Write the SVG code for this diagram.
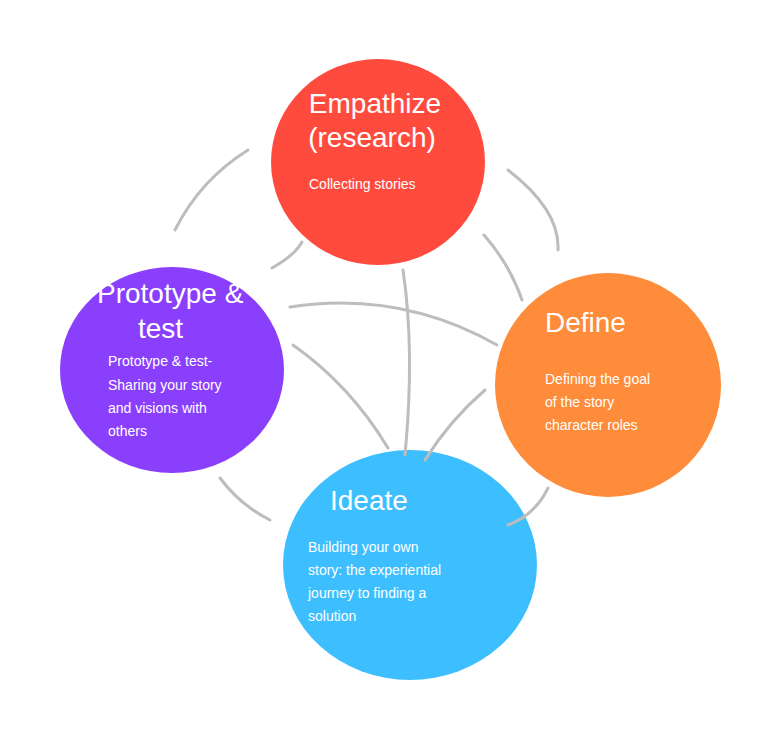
<svg xmlns="http://www.w3.org/2000/svg" width="768" height="734" viewBox="0 0 768 734">
<style>
.c{fill:none;stroke:#BDBDBD;stroke-width:3;stroke-linecap:round}
.t{fill:#fff;font-family:"Liberation Sans Narrow","Liberation Sans",sans-serif}
.h{font-size:28px}
.b{font-size:14px}
</style>
<rect width="768" height="734" fill="#fff"/>
<g id="empathize">
<ellipse cx="378" cy="162" rx="107" ry="103" fill="#FF4B3E"/>
<text class="t h" x="375" y="113" text-anchor="middle">Empathize</text>
<text class="t h" x="372" y="147" text-anchor="middle">(research)</text>
<text class="t b" x="309" y="189">Collecting stories</text>
</g>
<g id="define">
<ellipse cx="608" cy="385" rx="113" ry="112" fill="#FF8C3A"/>
<text class="t h" x="545" y="332">Define</text>
<text class="t b" x="545" y="384">Defining the goal</text>
<text class="t b" x="545" y="407">of the story</text>
<text class="t b" x="545" y="430">character roles</text>
</g>
<g id="prototype">
<ellipse cx="172" cy="370" rx="112" ry="103" fill="#8A3FFC"/>
<text class="t h" x="97" y="303">Prototype &amp;</text>
<text class="t h" x="138" y="338">test</text>
<text class="t b" x="108" y="366">Prototype &amp; test-</text>
<text class="t b" x="108" y="390">Sharing your story</text>
<text class="t b" x="108" y="413">and visions with</text>
<text class="t b" x="108" y="436">others</text>
</g>
<g id="ideate">
<ellipse cx="410" cy="565" rx="127" ry="115" fill="#3DBFFF"/>
<text class="t h" x="330" y="510">Ideate</text>
<text class="t b" x="308" y="552">Building your own</text>
<text class="t b" x="308" y="575">story: the experiential</text>
<text class="t b" x="308" y="598">journey to finding a</text>
<text class="t b" x="308" y="621">solution</text>
</g>
<g id="connectors">
<path class="c" d="M175,230 Q200,180 248,150"/>
<path class="c" d="M272,268 Q295,255 302,242"/>
<path class="c" d="M508,170 Q560,210 558,250"/>
<path class="c" d="M484,235 Q510,265 522,300"/>
<path class="c" d="M290,307 Q400,290 497,345"/>
<path class="c" d="M293,345 Q350,385 388,448"/>
<path class="c" d="M403,270 Q415,350 405,455"/>
<path class="c" d="M425,460 Q450,420 485,390"/>
<path class="c" d="M220,478 Q240,505 270,520"/>
<path class="c" d="M508,525 Q535,515 548,488"/>
</g>
</svg>
